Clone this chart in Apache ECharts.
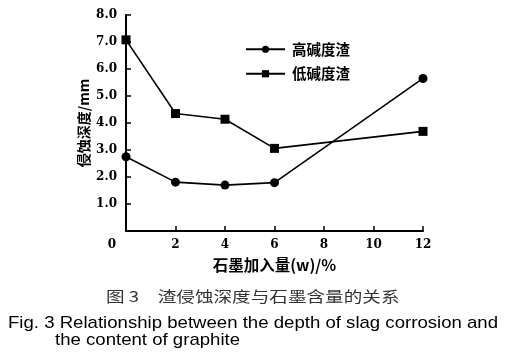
<!DOCTYPE html>
<html>
<head>
<meta charset="utf-8">
<script src="https://cdn.jsdelivr.net/npm/echarts@6/dist/echarts.min.js"></script>
<style>html,body{margin:0;padding:0;background:#fff}#c{width:505px;height:356px}</style>
</head>
<body>
<div id="c"></div>
<script>
var xValues = [0, 2, 4, 6, 12];
var highSlag = [2.75, 1.81, 1.70, 1.79, 5.65];
var lowSlag = [7.08, 4.35, 4.14, 3.06, 3.69];
var seriesNames = ['高碱度渣', '低碱度渣'];
var xAxisName = '石墨加入量(w)/%';
var yAxisName = '侵蚀深度/mm';
var captionCn = '图 3　渣侵蚀深度与石墨含量的关系';
var captionEn1 = 'Fig. 3 Relationship between the depth of slag corrosion and';
var captionEn2 = 'the content of graphite';

function pairs(xs, ys) { return xs.map(function (x, i) { return [x, ys[i]]; }); }

var chart = echarts.init(document.getElementById('c'));
var tickFont = 'DejaVu Serif';
chart.setOption({
  animation: false,
  backgroundColor: '#fff',
  grid: { left: 126, right: 82, top: 15, bottom: 125, containLabel: false },
  legend: {
    orient: 'vertical', left: 245, top: 42, padding: 0, itemWidth: 39, itemHeight: 9, itemGap: 10,
    data: seriesNames,
    textStyle: { fontFamily: 'Noto Sans CJK SC', fontWeight: 'bold', fontSize: 14.5, color: '#000', padding: [0, 0, 0, 2] }
  },
  xAxis: {
    type: 'value', min: 0, max: 12, interval: 2,
    name: xAxisName, nameLocation: 'middle', nameGap: 26, nameMoveOverlap: false,
    nameTextStyle: { fontFamily: 'Noto Sans CJK SC', fontWeight: 'bold', fontSize: 15.5, color: '#000' },
    axisLine: { show: true, lineStyle: { color: '#000', width: 2 } },
    axisTick: { show: true, inside: true, length: 5, lineStyle: { color: '#000', width: 1.5 } },
    splitLine: { show: false },
    axisLabel: {
      margin: 8, color: '#000', fontFamily: tickFont, fontWeight: 'bold', fontSize: 12,
      formatter: function (v) { return v === 0 ? '{z|0}' : String(v); },
      rich: { z: { padding: [0, 28, 0, 0], fontFamily: tickFont, fontWeight: 'bold', fontSize: 12, color: '#000' } }
    }
  },
  yAxis: {
    type: 'value', min: 0, max: 8, interval: 1,
    name: yAxisName, nameLocation: 'middle', nameGap: 35, nameMoveOverlap: false,
    nameTextStyle: { fontFamily: 'Noto Sans CJK SC', fontWeight: 'bold', fontSize: 14, color: '#000' },
    axisLine: { show: true, lineStyle: { color: '#000', width: 2 } },
    axisTick: { show: true, inside: true, length: 5, lineStyle: { color: '#000', width: 1.5 } },
    splitLine: { show: false },
    axisLabel: {
      margin: 9, color: '#000', fontFamily: tickFont, fontWeight: 'bold', fontSize: 12,
      formatter: function (v) { return v === 0 ? '' : v.toFixed(1); }
    }
  },
  series: [
    {
      name: seriesNames[0], type: 'line', data: pairs(xValues, highSlag),
      symbol: 'circle', symbolSize: 9,
      lineStyle: { color: '#000', width: 1.6 }, itemStyle: { color: '#000' }
    },
    {
      name: seriesNames[1], type: 'line', data: pairs(xValues, lowSlag),
      symbol: 'rect', symbolSize: 9,
      lineStyle: { color: '#000', width: 1.6 }, itemStyle: { color: '#000' }
    }
  ],
  graphic: [
    { type: 'text', x: 106, y: 289, scaleX: 1.24, style: { text: captionCn, font: '15px "Noto Sans CJK SC"', fill: '#333', verticalAlign: 'top' } },
    { type: 'text', x: 8, y: 315, scaleX: 1.094, style: { text: captionEn1, font: '17px "Liberation Sans"', fill: '#000', verticalAlign: 'top' } },
    { type: 'text', x: 55, y: 332, scaleX: 1.094, style: { text: captionEn2, font: '17px "Liberation Sans"', fill: '#000', verticalAlign: 'top' } }
  ]
});
</script>
</body>
</html>
